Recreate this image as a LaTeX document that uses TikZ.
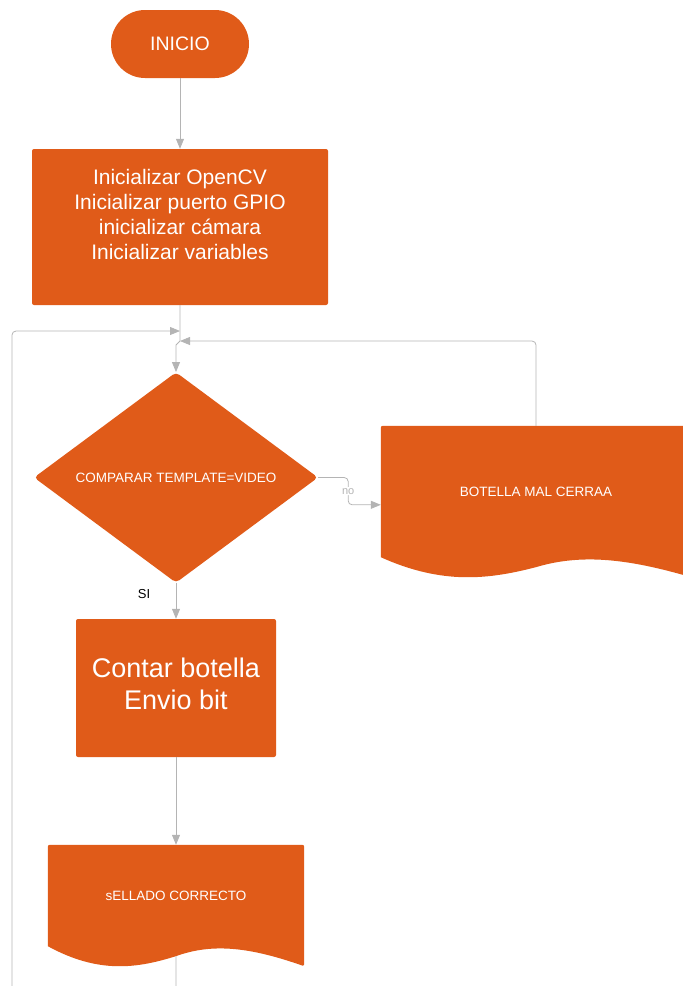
\documentclass[tikz,border=0pt]{standalone}
\usepackage{fontspec}
\setmainfont{Liberation Sans}
\usetikzlibrary{positioning,calc,shapes.geometric,arrows.meta,backgrounds}
\definecolor{naranja}{HTML}{E05B19}
\definecolor{linea}{HTML}{B4B4B4}

\begin{document}
\begin{tikzpicture}[x=1pt,y=-1pt,
    proceso/.style={fill=naranja,rounded corners=2pt,text=white,align=center,inner sep=0pt},
    decision/.style={diamond,fill=naranja,rounded corners=4pt,text=white,inner sep=0pt,
        minimum width=284pt,minimum height=205pt,font=\fontsize{13.5}{16}\selectfont},
    docu/.style={text=white,inner sep=0pt,font=\fontsize{13.5}{16}\selectfont},
    flecha/.style={draw=linea,line width=0.8pt,-{Triangle[length=10pt,width=8pt]}},
    linea/.style={draw=linea,line width=0.8pt}]
  \useasboundingbox (0,0) rectangle (683,986);

  % nodos
  \node[proceso,rounded corners=34pt,minimum width=138pt,minimum height=68pt,
        font=\fontsize{19.5}{23}\selectfont] (inicio) at (180,44) {INICIO};
  \node[proceso,minimum width=296pt,minimum height=156pt] (init) at (180,227) {};
  \node[text=white,align=center,font=\fontsize{21}{25}\selectfont] (inittxt) at (180,214)
      {Inicializar OpenCV\\Inicializar puerto GPIO\\inicializar cámara\\Inicializar variables};
  \node[proceso,minimum width=200pt,minimum height=138pt] (contar) at (176,688) {};
  \node[text=white,align=center,font=\fontsize{27}{32}\selectfont] (contartxt) at (176,684)
      {Contar botella\\Envio bit};
  \node[decision] (comp) at (176,477.5) {COMPARAR TEMPLATE=VIDEO};
  \node[docu,minimum width=310pt,minimum height=131pt] (mal) at (536,491.5) {BOTELLA MAL CERRAA};
  \node[docu,minimum width=256pt,minimum height=101pt] (sell) at (176,895.5) {sELLADO CORRECTO};

  % fondo de los documentos
  \begin{scope}[on background layer]
    \foreach \d/\w in {mal/310,sell/256}{
      \fill[naranja,rounded corners=2pt] (\d.south west) -- (\d.north west) -- (\d.north east)
          -- ($(\d.south east)+(0,20)$) [sharp corners]
          .. controls ($(\d.south west)+(0.8*\w,2)$) and ($(\d.south west)+(0.65*\w,-4)$)
          .. ($(\d.south west)+(0.5*\w,10)$)
          .. controls ($(\d.south west)+(0.35*\w,22)$) and ($(\d.south west)+(0.2*\w,28)$)
          .. (\d.south west) -- cycle;
    }
  \end{scope}

  \coordinate (j1) at (180,331);
  \coordinate (j2) at (180,341);
  \coordinate (fin) at ($(sell.south)+(0,10)$);

  % conectores
  \draw[flecha] (inicio) -- (init);
  \draw[flecha] (init.south) -- (j2) -- ++(-4,4) -- (comp.north);
  \draw[flecha,rounded corners=4pt] (comp.east) -- ++(30,0)
      |- node[pos=0.25,fill=white,text=linea,inner sep=1pt,font=\fontsize{11}{13}\selectfont] (no) {no}
      ($(mal.north west)+(0,79)$);
  \draw[flecha,rounded corners=4pt] (mal.north) |- (j2);
  \draw[flecha] (comp.south) -- node[pos=0.3,left=22pt,text=black,font=\fontsize{13}{15}\selectfont] (si) {SI} (contar.north);
  \draw[flecha] (contar) -- (sell.north);
  \draw[flecha,rounded corners=4pt] (fin) -- ++(0,60) -| (12,331) -- (j1);
\end{tikzpicture}
\end{document}
